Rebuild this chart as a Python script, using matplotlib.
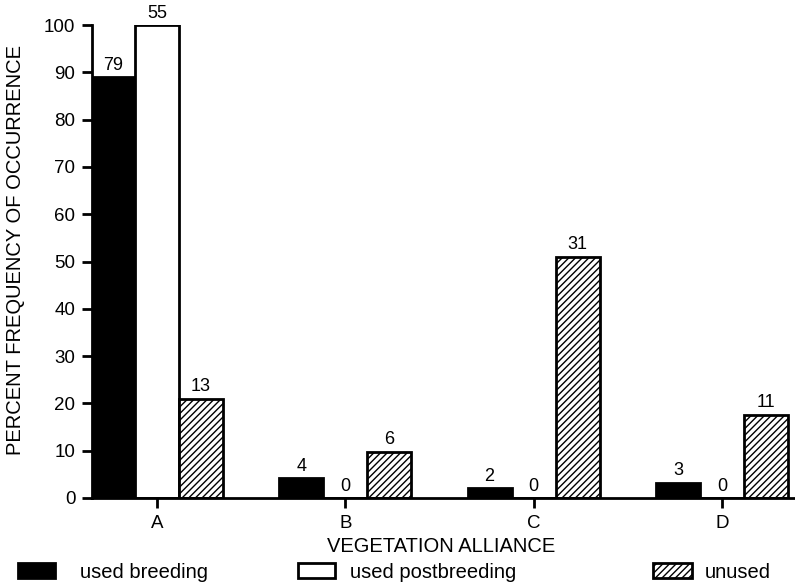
import matplotlib
matplotlib.use("Agg")
import matplotlib.pyplot as plt
from matplotlib.patches import Rectangle
import numpy as np

categories = ["A", "B", "C", "D"]
used_breeding = [89, 4.2, 2.1, 3.2]
used_postbreeding = [100, 0, 0, 0]
unused = [21, 9.8, 51, 17.6]
n_breeding = ["79", "4", "2", "3"]
n_postbreeding = ["55", "0", "0", "0"]
n_unused = ["13", "6", "31", "11"]
series_names = ["used breeding", "used postbreeding", "unused"]
yticks = list(range(0, 101, 10))

plt.rcParams['font.family'] = ['Liberation Sans', 'DejaVu Sans']
plt.rcParams['hatch.linewidth'] = 1.0

W, H = 795, 587
fig = plt.figure(figsize=(W / 100, H / 100), dpi=100)
ax = fig.add_axes([92 / W, (H - 498) / H, (W - 92) / W, (498 - 25) / H])

x = np.arange(len(categories))
bw = 0.234
lw = 2.0
b1 = ax.bar(x - bw, used_breeding, bw, color="black", edgecolor="black", linewidth=lw)
b2 = ax.bar(x, used_postbreeding, bw, color="white", edgecolor="black", linewidth=lw)
b3 = ax.bar(x + bw, unused, bw, color="white", edgecolor="black", hatch="/////", linewidth=lw)

for bars, labels in ((b1, n_breeding), (b2, n_postbreeding), (b3, n_unused)):
    for rect, lab in zip(bars, labels):
        ax.annotate(lab, (rect.get_x() + rect.get_width() / 2, rect.get_height()),
                    xytext=(0, 2.5), textcoords="offset points",
                    ha="center", va="bottom", fontsize=13)

ax.set_xlim(-0.345, 3.388)
ax.set_ylim(0, 100)
ax.set_yticks(yticks)
ax.set_xticks(x)
ax.set_xticklabels(categories)
ax.tick_params(axis="both", direction="out", length=7, width=2, labelsize=13.5, pad=5)
for s in ("top", "right"):
    ax.spines[s].set_visible(False)
ax.spines["left"].set_linewidth(2.0)
ax.spines["bottom"].set_linewidth(2.0)

fig.text(441 / W, 1 - 552 / H, "VEGETATION ALLIANCE", ha="center", va="baseline", fontsize=14.5)
fig.text(16 / W, 1 - 250 / H, "PERCENT FREQUENCY OF OCCURRENCE", rotation=90,
         ha="center", va="center", fontsize=14.5)

# legend
leg = [(18, 55, "black", None, 80), (298, 335, "white", None, 350), (653, 692, "white", "/////", 705)]
for (x0, x1, fc, hatch, tx), name in zip(leg, series_names):
    r = Rectangle((x0 / W, 1 - 578 / H), (x1 - x0) / W, 15 / H, transform=fig.transFigure,
                  facecolor=fc, edgecolor="black", linewidth=2.0, hatch=hatch)
    fig.patches.append(r)
    fig.text(tx / W, 1 - 578 / H, name, ha="left", va="baseline", fontsize=14.5)

fig.savefig("out.png", dpi=100)
